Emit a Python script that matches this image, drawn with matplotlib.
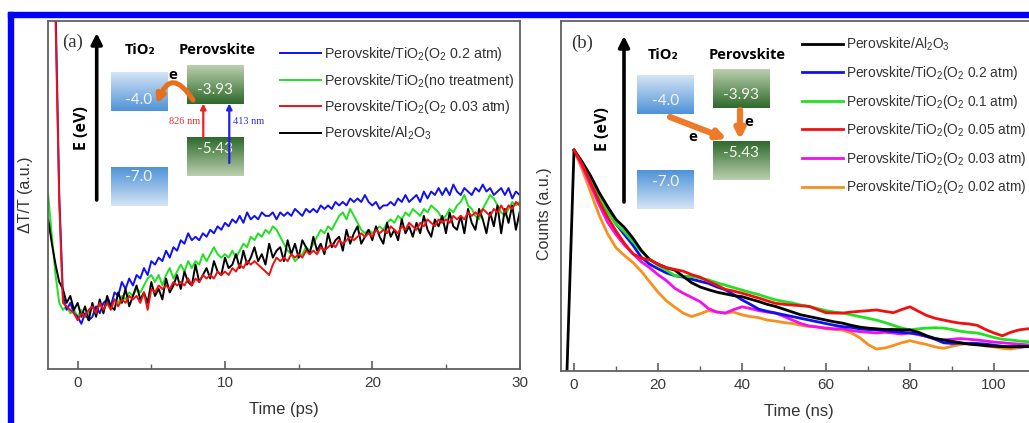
import numpy as np
import matplotlib
matplotlib.use("Agg")
import matplotlib.pyplot as plt
from matplotlib.patches import Rectangle, FancyArrowPatch
from matplotlib.colors import LinearSegmentedColormap
from matplotlib.ticker import MultipleLocator

plt.rcParams['font.family'] = ['Liberation Sans', 'DejaVu Sans']
plt.rcParams['mathtext.default'] = 'regular'

# ---- (a) transient absorption, one value every 0.25 ps from -2 to 30 ps ----
t_ps = np.arange(-2, 30.001, 0.25)

ta_blue = [2.5, 1.8, 1.05, 0.5, 0.21, 0.17, 0.19, 0.16,
           0.15, 0.13, 0.16, 0.14, 0.15, 0.18, 0.16, 0.19,
           0.20, 0.18, 0.22, 0.21, 0.25, 0.23, 0.26, 0.24,
           0.27, 0.26, 0.29, 0.27, 0.31, 0.30, 0.32, 0.31,
           0.34, 0.32, 0.35, 0.34, 0.37, 0.36, 0.39, 0.37,
           0.38, 0.37, 0.39, 0.38, 0.40, 0.39, 0.41, 0.40,
           0.42, 0.41, 0.43, 0.42, 0.44, 0.42, 0.45, 0.43,
           0.44, 0.43, 0.45, 0.44, 0.44, 0.45, 0.43, 0.45,
           0.44, 0.45, 0.44, 0.46, 0.45, 0.44, 0.46, 0.45,
           0.46, 0.45, 0.47, 0.46, 0.47, 0.46, 0.48, 0.47,
           0.48, 0.47, 0.49, 0.48, 0.49, 0.48, 0.50, 0.48,
           0.47, 0.48, 0.46, 0.47, 0.47, 0.48, 0.47, 0.49,
           0.48, 0.50, 0.48, 0.49, 0.50, 0.48, 0.51, 0.49,
           0.51, 0.50, 0.52, 0.50, 0.52, 0.50, 0.53, 0.51,
           0.50, 0.52, 0.51, 0.50, 0.52, 0.51, 0.53, 0.51,
           0.52, 0.50, 0.51, 0.52, 0.50, 0.52, 0.49, 0.51,
           0.50]

ta_green = [0.50, 0.38, 0.27, 0.19, 0.17, 0.18, 0.16, 0.17,
            0.15, 0.17, 0.15, 0.16, 0.18, 0.16, 0.19, 0.17,
            0.19, 0.18, 0.20, 0.19, 0.21, 0.20, 0.22, 0.21,
            0.23, 0.22, 0.24, 0.26, 0.27, 0.25, 0.27, 0.24,
            0.27, 0.29, 0.26, 0.28, 0.30, 0.28, 0.31, 0.29,
            0.31, 0.30, 0.33, 0.31, 0.33, 0.35, 0.33, 0.32,
            0.33, 0.32, 0.34, 0.32, 0.34, 0.36, 0.35, 0.38,
            0.37, 0.39, 0.38, 0.40, 0.39, 0.41, 0.40, 0.38,
            0.36, 0.34, 0.33, 0.31, 0.32, 0.33, 0.35, 0.34,
            0.36, 0.38, 0.40, 0.39, 0.41, 0.40, 0.42, 0.44,
            0.45, 0.43, 0.46, 0.44, 0.42, 0.40, 0.39, 0.40,
            0.39, 0.40, 0.41, 0.40, 0.42, 0.43, 0.42, 0.44,
            0.43, 0.45, 0.44, 0.46, 0.45, 0.44, 0.46, 0.45,
            0.47, 0.46, 0.45, 0.43, 0.44, 0.46, 0.45, 0.47,
            0.48, 0.50, 0.47, 0.46, 0.44, 0.43, 0.46, 0.48,
            0.50, 0.49, 0.47, 0.45, 0.44, 0.46, 0.48, 0.47,
            0.48]

ta_red = [2.5, 1.8, 1.0, 0.48, 0.19, 0.18, 0.17, 0.16,
          0.14, 0.16, 0.15, 0.17, 0.18, 0.16, 0.19, 0.17,
          0.19, 0.17, 0.20, 0.18, 0.20, 0.19, 0.21, 0.20,
          0.21, 0.19, 0.22, 0.17, 0.23, 0.22, 0.24, 0.23,
          0.24, 0.23, 0.25, 0.24, 0.25, 0.24, 0.26, 0.24,
          0.26, 0.25, 0.27, 0.26, 0.27, 0.26, 0.28, 0.27,
          0.28, 0.27, 0.29, 0.28, 0.30, 0.29, 0.31, 0.30,
          0.31, 0.30, 0.29, 0.28, 0.27, 0.30, 0.32, 0.31,
          0.32, 0.31, 0.33, 0.32, 0.33, 0.32, 0.34, 0.33,
          0.34, 0.33, 0.35, 0.34, 0.35, 0.36, 0.35, 0.37,
          0.36, 0.37, 0.38, 0.37, 0.38, 0.39, 0.38, 0.39,
          0.38, 0.40, 0.39, 0.40, 0.39, 0.41, 0.40, 0.39,
          0.41, 0.40, 0.42, 0.41, 0.40, 0.42, 0.41, 0.43,
          0.42, 0.41, 0.43, 0.42, 0.43, 0.42, 0.44, 0.43,
          0.44, 0.43, 0.45, 0.44, 0.45, 0.44, 0.46, 0.45,
          0.44, 0.46, 0.45, 0.47, 0.45, 0.47, 0.46, 0.48,
          0.47]

ta_black = [0.43, 0.36, 0.30, 0.25, 0.23, 0.19, 0.21, 0.17,
            0.19, 0.15, 0.18, 0.14, 0.19, 0.15, 0.20, 0.16,
            0.21, 0.18, 0.17, 0.22, 0.19, 0.23, 0.18, 0.21,
            0.24, 0.20, 0.22, 0.19, 0.25, 0.21, 0.23, 0.20,
            0.26, 0.22, 0.24, 0.27, 0.23, 0.28, 0.25, 0.24,
            0.30, 0.25, 0.27, 0.29, 0.26, 0.31, 0.28, 0.27,
            0.32, 0.29, 0.30, 0.33, 0.29, 0.34, 0.30, 0.32,
            0.35, 0.31, 0.33, 0.30, 0.36, 0.32, 0.34, 0.35,
            0.31, 0.37, 0.33, 0.36, 0.32, 0.37, 0.35, 0.33,
            0.38, 0.34, 0.36, 0.33, 0.39, 0.35, 0.37, 0.38,
            0.34, 0.40, 0.36, 0.39, 0.41, 0.36, 0.38, 0.40,
            0.37, 0.41, 0.38, 0.36, 0.42, 0.38, 0.40, 0.37,
            0.43, 0.39, 0.41, 0.38, 0.42, 0.39, 0.44, 0.40,
            0.38, 0.43, 0.41, 0.44, 0.39, 0.45, 0.41, 0.40,
            0.44, 0.39, 0.46, 0.42, 0.40, 0.46, 0.43, 0.39,
            0.45, 0.41, 0.47, 0.39, 0.46, 0.42, 0.47, 0.40,
            0.45]

labels_a = [r'Perovskite/TiO$_2$(O$_2$ 0.2 atm)',
            r'Perovskite/TiO$_2$(no treatment)',
            r'Perovskite/TiO$_2$(O$_2$ 0.03 atm)',
            r'Perovskite/Al$_2$O$_3$']

# ---- (b) PL decay, one value every 2 ns from 0 to 110 ns ----
t_ns = np.arange(0, 110.001, 2)
rise_t = [-1.8]        # instrument rise before the peak (Al2O3 trace)
rise_v = [-0.05]

pl_black = [0.632, 0.597, 0.557, 0.510, 0.470, 0.433, 0.410, 0.380, 0.345, 0.318,
            0.305, 0.295, 0.288, 0.270, 0.252, 0.240, 0.232, 0.225, 0.220, 0.215,
            0.212, 0.205, 0.198, 0.190, 0.184, 0.176, 0.168, 0.160, 0.155, 0.150,
            0.145, 0.140, 0.136, 0.130, 0.125, 0.122, 0.120, 0.118, 0.118, 0.117,
            0.117, 0.110, 0.100, 0.092, 0.088, 0.084, 0.080, 0.076, 0.074, 0.072,
            0.070, 0.069, 0.068, 0.070, 0.069, 0.068]
pl_blue = [0.632, 0.595, 0.553, 0.505, 0.460, 0.420, 0.390, 0.360, 0.325, 0.305,
           0.292, 0.280, 0.272, 0.268, 0.262, 0.256, 0.250, 0.240, 0.232, 0.218,
           0.203, 0.190, 0.176, 0.170, 0.165, 0.160, 0.155, 0.150, 0.145, 0.140,
           0.135, 0.130, 0.126, 0.124, 0.120, 0.118, 0.117, 0.115, 0.112, 0.110,
           0.108, 0.105, 0.098, 0.090, 0.080, 0.078, 0.079, 0.078, 0.078, 0.076,
           0.073, 0.070, 0.069, 0.068, 0.069, 0.068]
pl_green = [0.632, 0.595, 0.550, 0.500, 0.455, 0.420, 0.398, 0.370, 0.342, 0.320,
            0.302, 0.288, 0.272, 0.270, 0.270, 0.265, 0.260, 0.252, 0.245, 0.238,
            0.231, 0.224, 0.218, 0.210, 0.203, 0.198, 0.194, 0.188, 0.184, 0.178,
            0.172, 0.168, 0.165, 0.160, 0.155, 0.150, 0.145, 0.138, 0.130, 0.122,
            0.117, 0.120, 0.122, 0.123, 0.122, 0.118, 0.113, 0.110, 0.108, 0.102,
            0.095, 0.090, 0.088, 0.085, 0.083, 0.082]
pl_red = [0.632, 0.590, 0.538, 0.485, 0.440, 0.400, 0.365, 0.335, 0.322, 0.318,
          0.305, 0.295, 0.290, 0.285, 0.275, 0.268, 0.256, 0.245, 0.233, 0.228,
          0.222, 0.215, 0.208, 0.200, 0.193, 0.190, 0.188, 0.186, 0.184, 0.175,
          0.166, 0.165, 0.165, 0.168, 0.170, 0.172, 0.174, 0.170, 0.166, 0.175,
          0.183, 0.170, 0.158, 0.150, 0.145, 0.140, 0.136, 0.134, 0.130, 0.118,
          0.108, 0.100, 0.110, 0.117, 0.120, 0.118]
pl_magenta = [0.632, 0.585, 0.530, 0.475, 0.425, 0.390, 0.360, 0.335, 0.312, 0.295,
              0.275, 0.258, 0.236, 0.222, 0.210, 0.198, 0.178, 0.168, 0.165, 0.175,
              0.183, 0.178, 0.172, 0.168, 0.165, 0.155, 0.145, 0.135, 0.128, 0.125,
              0.122, 0.120, 0.120, 0.115, 0.112, 0.110, 0.108, 0.110, 0.108, 0.105,
              0.108, 0.103, 0.098, 0.092, 0.088, 0.090, 0.092, 0.090, 0.088, 0.085,
              0.082, 0.080, 0.078, 0.076, 0.074, 0.075]
pl_orange = [0.632, 0.575, 0.510, 0.445, 0.392, 0.352, 0.330, 0.310, 0.285, 0.255,
             0.225, 0.200, 0.182, 0.165, 0.155, 0.163, 0.172, 0.168, 0.165, 0.168,
             0.160, 0.155, 0.152, 0.145, 0.142, 0.138, 0.135, 0.130, 0.127, 0.125,
             0.120, 0.118, 0.116, 0.108, 0.095, 0.075, 0.062, 0.065, 0.072, 0.080,
             0.086, 0.080, 0.075, 0.068, 0.064, 0.070, 0.075, 0.078, 0.076, 0.070,
             0.068, 0.064, 0.062, 0.066, 0.070, 0.068]

labels_b = [r'Perovskite/Al$_2$O$_3$',
            r'Perovskite/TiO$_2$(O$_2$ 0.2 atm)',
            r'Perovskite/TiO$_2$(O$_2$ 0.1 atm)',
            r'Perovskite/TiO$_2$(O$_2$ 0.05 atm)',
            r'Perovskite/TiO$_2$(O$_2$ 0.03 atm)',
            r'Perovskite/TiO$_2$(O$_2$ 0.02 atm)']

W, H = 1029, 423
fig = plt.figure(figsize=(W / 100, H / 100), dpi=100)
fig.patch.set_facecolor('white')


def box(x0, y0, x1, y1):
    # pixel box (top-left origin) -> figure fraction rect
    return [x0 / W, 1 - y1 / H, (x1 - x0) / W, (y1 - y0) / H]


ax1 = fig.add_axes(box(48.2, 21, 519.6, 369))
ax2 = fig.add_axes(box(561.4, 21.5, 1044.4, 370.7))

c_blue, c_green, c_red = '#1010f0', '#22e022', '#f01010'
c_mag, c_orange = '#f010f0', '#f7901e'

# panel (a)
lg = ax1.plot(t_ps, ta_green, color=c_green, lw=1.4)[0]
lb = ax1.plot(t_ps, ta_blue, color=c_blue, lw=1.4)[0]
lk = ax1.plot(t_ps, ta_black, color='black', lw=1.4)[0]
lr = ax1.plot(t_ps, ta_red, color=c_red, lw=1.4)[0]
ax1.set_xlim(-2, 30)
ax1.set_ylim(0, 1)
ax1.xaxis.set_major_locator(MultipleLocator(10))
ax1.xaxis.set_minor_locator(MultipleLocator(5))
ax1.set_xlabel('Time (ps)', fontsize=12, color='#333333')
ax1.set_ylabel('ΔT/T (a.u.)', fontsize=11.5, color='#333333')
ax1.xaxis.set_label_coords(0.5, -0.095)
ax1.yaxis.set_label_coords(-0.032, 0.5)
ax1.legend([lb, lg, lr, lk], labels_a, loc='upper left',
           bbox_to_anchor=(280 / W, 1 - 45 / H), bbox_transform=fig.transFigure,
           frameon=False, fontsize=10.3, labelcolor='#333333', handlelength=2.85,
           handletextpad=0.25, labelspacing=0.6, borderpad=0, borderaxespad=0)

# panel (b)
l_or = ax2.plot(t_ns, pl_orange, color=c_orange, lw=2.0)[0]
l_mg = ax2.plot(t_ns, pl_magenta, color=c_mag, lw=2.0)[0]
l_bl = ax2.plot(t_ns, pl_blue, color=c_blue, lw=2.0)[0]
l_gr = ax2.plot(t_ns, pl_green, color=c_green, lw=2.0)[0]
l_bk = ax2.plot(np.concatenate([rise_t, t_ns]), np.concatenate([rise_v, pl_black]),
                color='black', lw=2.0)[0]
l_rd = ax2.plot(t_ns, pl_red, color=c_red, lw=2.0)[0]
ax2.set_xlim(-3, 112)
ax2.set_ylim(0, 1)
ax2.xaxis.set_major_locator(MultipleLocator(20))
ax2.xaxis.set_minor_locator(MultipleLocator(10))
ax2.set_xlabel('Time (ns)', fontsize=12, color='#333333')
ax2.set_ylabel('Counts (a.u.)', fontsize=11.5, color='#333333')
ax2.xaxis.set_label_coords(0.492, -0.095)
ax2.yaxis.set_label_coords(-0.019, 0.45)
ax2.legend([l_bk, l_bl, l_gr, l_rd, l_mg, l_or], labels_b, loc='upper left',
           bbox_to_anchor=(802 / W, 1 - 36 / H), bbox_transform=fig.transFigure,
           frameon=False, fontsize=9.9, labelcolor='#333333', handlelength=2.95,
           handletextpad=0.25, labelspacing=0.77, borderpad=0, borderaxespad=0)

for ax in (ax1, ax2):
    for s in ax.spines.values():
        s.set_color('#606060')
        s.set_linewidth(1.3)
    ax.tick_params(which='major', direction='in', length=6, width=1.2,
                   colors='#606060', labelcolor='#3a3a3a', labelsize=11, pad=5,
                   left=False, labelleft=False)
    ax.tick_params(which='minor', direction='in', length=3.5, width=1.0,
                   colors='#606060', left=False)

# ---- energy-level sketches, drawn in pixel space on top ----
ov = fig.add_axes([0, 0, 1, 1], zorder=10)
ov.patch.set_visible(False)
ov.axis('off')

blue_pale, blue_deep = '#d4e4f5', '#4f93d8'
green_pale, green_deep = '#b9cfae', '#2f6a2c'
num_font = ['Lato', 'DejaVu Sans']


def level(x0, y0, top, bottom, label, ty):
    cmap = LinearSegmentedColormap.from_list('lvl', [top, bottom])
    ov.imshow(np.linspace(0, 1, 64)[:, None], cmap=cmap, origin='upper',
              extent=(x0, x0 + 57, y0 + 39, y0), aspect='auto',
              interpolation='bilinear', zorder=2)
    ov.text(x0 + 28, ty, label, color='#f3f6ea', ha='center', va='center',
            fontsize=11, family=num_font, zorder=3)


def arrow(p0, p1, color, lw, ms, rad=0.0):
    ov.add_patch(FancyArrowPatch(p0, p1, arrowstyle='-|>', mutation_scale=ms,
                                 lw=lw, color=color, shrinkA=0, shrinkB=0,
                                 connectionstyle=f'arc3,rad={rad}', zorder=4))


def header(xe, ye, x_ti, x_pv, y_h, ex):
    arrow((ex, ye), (ex, 33 if ye < 201 else 36), 'black', 2.6, 16)
    ov.text(xe, (ye + 40) / 2 + 8, 'E (eV)', rotation=90, ha='center', va='center',
            fontsize=11.5, fontweight='bold', family=['Open Sans', 'DejaVu Sans'])
    ov.text(x_ti, y_h, 'TiO₂', ha='center', va='center', fontsize=10.5,
            fontweight='bold', family=['Open Sans', 'DejaVu Sans'])
    ov.text(x_pv, y_h, 'Perovskite', ha='center', va='center', fontsize=10.5,
            fontweight='bold', family=['Open Sans', 'DejaVu Sans'])


# inset (a)
ov.text(62, 42, '(a)', ha='left', va='center', fontsize=13.5,
        family=['Liberation Serif', 'DejaVu Serif'], color='#333333')
header(82, 200, 140, 216.7, 50, 96.7)
level(110.7, 71.7, blue_pale, blue_deep, '-4.0', 100)
level(110.7, 166.7, blue_deep, blue_pale, '-7.0', 177)
level(186.7, 65, green_pale, green_deep, '-3.93', 90)
level(186.7, 137, green_deep, green_pale, '-5.43', 149)
arrow((203.3, 137), (203.3, 103.5), '#f02020', 1.6, 8)
arrow((229.3, 163), (229.3, 103.5), '#2020e0', 1.6, 8)
ov.text(200, 122, '826 nm', color='#e83030', ha='right', va='center', fontsize=7.5,
        family=['Liberation Serif', 'DejaVu Serif'])
ov.text(233, 122, '413 nm', color='#3030d8', ha='left', va='center', fontsize=7.5,
        family=['Liberation Serif', 'DejaVu Serif'])
arrow((193, 100), (157, 104), '#e8701c', 3.6, 12, rad=1.0)
ov.text(173, 75, 'e', ha='center', va='center', fontsize=11, fontweight='bold',
        family=['Open Sans', 'DejaVu Sans'])

# inset (b)
ov.text(571, 43, '(b)', ha='left', va='center', fontsize=13.5,
        family=['Liberation Serif', 'DejaVu Serif'], color='#333333')
header(603, 202, 663.3, 746.7, 55, 624)
level(637.3, 75, blue_pale, blue_deep, '-4.0', 101)
level(637.3, 170, blue_deep, blue_pale, '-7.0', 182)
level(712.7, 69, green_pale, green_deep, '-3.93', 95)
level(712.7, 141, green_deep, green_pale, '-5.43', 153)
arrow((670, 117), (727, 139), '#ed7a2a', 4.5, 13)
arrow((740, 110), (740, 140), '#ed7a2a', 4.5, 13)
ov.text(749, 122, 'e', ha='center', va='center', fontsize=11, fontweight='bold',
        family=['Open Sans', 'DejaVu Sans'])
ov.text(693, 137, 'e', ha='center', va='center', fontsize=11, fontweight='bold',
        family=['Open Sans', 'DejaVu Sans'])

# blue frame along the top and left edges
ov.add_patch(Rectangle((8, 12), W - 8, 5, color='#0000ff', zorder=5))
ov.add_patch(Rectangle((8, 12), 5, H - 12, color='#0000ff', zorder=5))

ov.set_xlim(0, W)
ov.set_ylim(H, 0)

fig.savefig('out.png', dpi=100)
